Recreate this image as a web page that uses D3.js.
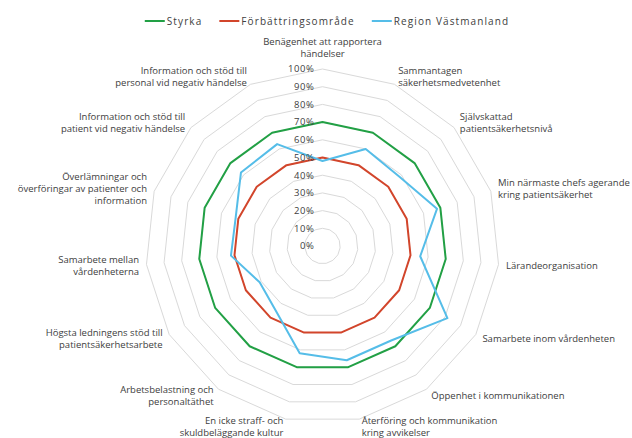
<!DOCTYPE html>
<html>
<head>
<meta charset="utf-8">
<script src="https://cdn.jsdelivr.net/npm/d3@7"></script>
<style>
  body { margin: 0; background: #fff; }
  text { font-family: "Open Sans", sans-serif; fill: #404040; }
</style>
</head>
<body>
<svg id="chart" width="632" height="438"></svg>
<script>
const categories = [
  ["Benägenhet att rapportera", "händelser"],
  ["Sammantagen", "säkerhetsmedvetenhet"],
  ["Självskattad", "patientsäkerhetsnivå"],
  ["Min närmaste chefs agerande", "kring patientsäkerhet"],
  ["Lärandeorganisation"],
  ["Samarbete inom vårdenheten"],
  ["Öppenhet i kommunikationen"],
  ["Återföring och kommunikation", "kring avvikelser"],
  ["En icke straff- och", "skuldbeläggande kultur"],
  ["Arbetsbelastning och", "personaltäthet"],
  ["Högsta ledningens stöd till", "patientsäkerhetsarbete"],
  ["Samarbete mellan", "vårdenheterna"],
  ["Överlämningar och", "överföringar av patienter och", "information"],
  ["Information och stöd till", "patient vid negativ händelse"],
  ["Information och stöd till", "personal vid negativ händelse"]
];
const styrka = [0.70, 0.70, 0.70, 0.70, 0.70, 0.70, 0.70, 0.70, 0.70, 0.70, 0.70, 0.70, 0.70, 0.70, 0.70];
const forbattring = [0.50, 0.50, 0.50, 0.50, 0.50, 0.50, 0.50, 0.50, 0.50, 0.50, 0.50, 0.50, 0.50, 0.50, 0.50];
const region = [0.48, 0.60, 0.585, 0.68, 0.555, 0.815, 0.66, 0.66, 0.62, 0.45, 0.41, 0.52, 0.516, 0.62, 0.63];
const ticks = [0, 0.1, 0.2, 0.3, 0.4, 0.5, 0.6, 0.7, 0.8, 0.9, 1.0];

const series = [
  { name: "Styrka", values: styrka, color: "#22a045" },
  { name: "Förbättringsområde", values: forbattring, color: "#d2452b" },
  { name: "Region Västmanland", values: region, color: "#55bde8" }
];

const svg = d3.select("#chart");
const cx = 322.5, cy = 246;
const r = d3.scaleLinear().domain([0, 1]).range([0, 177]);
const n = categories.length;
const angle = d3.scaleLinear().domain([0, n]).range([0, 2 * Math.PI]);

const g = svg.append("g").attr("transform", `translate(${cx},${cy})`);

// grid rings
const ringLine = d3.lineRadial()
  .angle((d, i) => angle(i))
  .radius(d => r(d))
  .curve(d3.curveLinearClosed);

g.selectAll(".ring")
  .data(ticks.slice(1))
  .enter()
  .append("path")
  .attr("class", "ring")
  .attr("d", t => ringLine(d3.range(n).map(() => t)))
  .attr("fill", "none")
  .attr("stroke", "#d9d9d9")
  .attr("stroke-width", 1);

// series
g.selectAll(".series")
  .data(series)
  .enter()
  .append("path")
  .attr("class", "series")
  .attr("d", s => ringLine(s.values))
  .attr("fill", "none")
  .attr("stroke", s => s.color)
  .attr("stroke-width", 2)
  .attr("stroke-linejoin", "round");

// tick labels
g.selectAll(".tick")
  .data(ticks)
  .enter()
  .append("text")
  .attr("class", "tick")
  .attr("x", -8)
  .attr("y", t => -r(t))
  .attr("dy", "0.35em")
  .attr("text-anchor", "end")
  .style("font-size", "9.5px")
  .style("letter-spacing", "0.6px")
  .text(t => Math.round(t * 100) + "%");

// category labels
const lineH = 12;
g.selectAll(".cat")
  .data(categories)
  .enter()
  .append("text")
  .attr("class", "cat")
  .style("font-size", "9.5px")
  .each(function (lines, i) {
    const a = angle(i);
    const s = Math.sin(a), c = Math.cos(a);
    const vx = r(1) * s, vy = -r(1) * c;
    let anchor = "middle", x = vx, yc;
    if (s > 0.1) { anchor = "start"; x = vx + 1 + 6.5 * Math.abs(s); }
    else if (s < -0.1) { anchor = "end"; x = vx - 1 - 6.5 * Math.abs(s); }
    const blockH = lines.length * lineH;
    if (Math.abs(s) < 0.1 && c > 0) yc = vy - blockH / 2 - 9;
    else yc = vy - c * 8;
    const y0 = yc - blockH / 2 + lineH / 2;
    const t = d3.select(this).attr("text-anchor", anchor);
    lines.forEach((ln, k) => {
      t.append("tspan")
        .attr("x", x)
        .attr("y", y0 + k * lineH)
        .attr("dy", "0.35em")
        .text(ln);
    });
  });

// legend
const legend = svg.append("g").attr("class", "legend");
const items = legend.selectAll("g")
  .data(series)
  .enter()
  .append("g");
items.append("line")
  .attr("y1", 21).attr("y2", 21)
  .attr("stroke", d => d.color)
  .attr("stroke-width", 2);
items.append("text")
  .attr("y", 21)
  .attr("dy", "0.35em")
  .style("font-size", "10px")
  .style("letter-spacing", "1.1px")
  .text(d => d.name);

let xpos = 0;
items.each(function () {
  const it = d3.select(this);
  const w = it.select("text").node().getComputedTextLength();
  it.select("line").attr("x1", xpos).attr("x2", xpos + 20);
  it.select("text").attr("x", xpos + 22);
  xpos += 22 + w + 17;
});
const totalW = xpos - 17;
legend.attr("transform", `translate(${327 - totalW / 2},0)`);
</script>
</body>
</html>
